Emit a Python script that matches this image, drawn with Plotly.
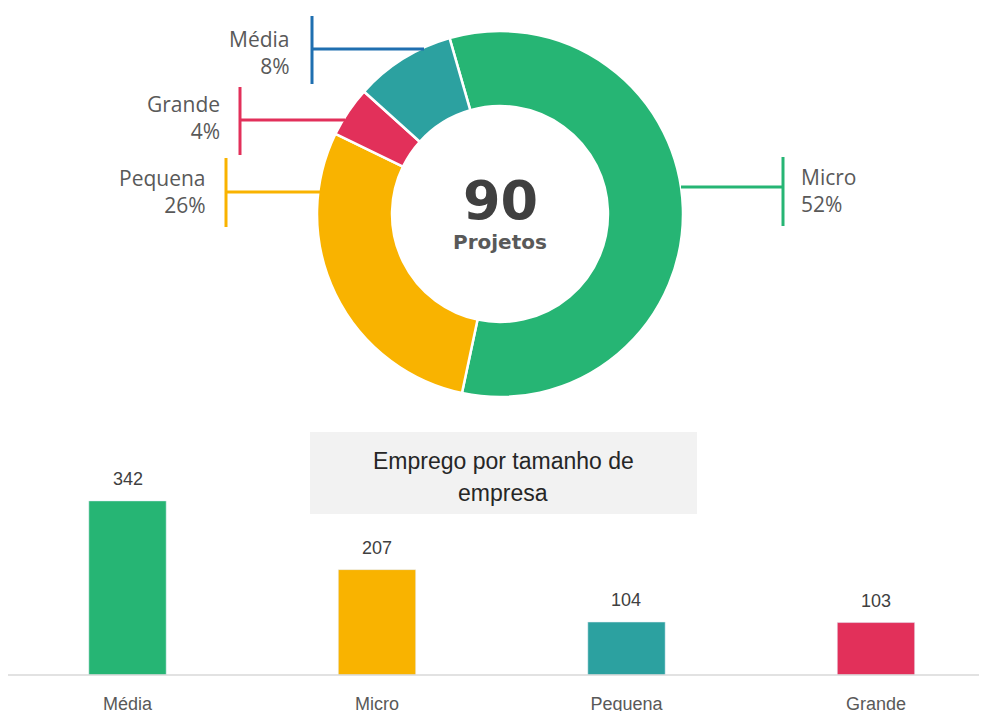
import plotly.graph_objects as go

# page has an 8px body margin, so the figure is drawn 8px in and sized to fit the window
OFF = 8
W, H = 987 - OFF, 711 - OFF

# donut data (projects by company size)
pie_labels = ['Micro', 'Pequena', 'Grande', 'Média']
pie_values = [52, 26, 4, 8]
pie_colors = ['#26B574', '#F9B300', '#E2305A', '#2CA1A0']
line_colors = ['#26B574', '#F9B300', '#E2305A', '#1F6FB0']
total_projects = 90

# bar data (employment by company size)
bar_labels = ['Média', 'Micro', 'Pequena', 'Grande']
bar_values = [342, 207, 104, 103]
bar_colors = ['#26B574', '#F9B300', '#2CA1A0', '#E2305A']


def px(x):
    return (x - OFF) / W


def py(y):
    return 1 - (y - OFF) / H


fig = go.Figure()

# donut
cx, cy, r = 500, 214, 183
fig.add_trace(go.Pie(
    labels=pie_labels, values=pie_values,
    hole=0.59, sort=False, direction='clockwise', rotation=-16,
    marker=dict(colors=pie_colors, line=dict(color='white', width=2.5)),
    textinfo='none', showlegend=False,
    domain=dict(x=[px(cx - r), px(cx + r)], y=[py(cy + r), py(cy - r)]),
))

# bars
fig.add_trace(go.Bar(
    x=bar_labels, y=bar_values, marker_color=bar_colors,
    width=0.31, showlegend=False,
))

# bar value labels
for lab, v in zip(bar_labels, bar_values):
    fig.add_annotation(x=lab, y=v, xref='x', yref='y', text=str(v),
                       showarrow=False, yshift=22, xanchor='center', yanchor='middle',
                       font=dict(family='Liberation Sans', size=18, color='#404040'))

# leader lines for donut labels: (vertical x, y0, y1, horizontal y, x_end)
leaders = {
    'Média': (312, 16, 84, 49, 424),
    'Grande': (240, 87, 155, 120, 345),
    'Pequena': (226, 158, 227, 192, 320),
    'Micro': (783, 157, 226, 187, 681),
}
# label text anchor: (x, y_centre, anchor)
label_pos = {
    'Média': (292, 52, 'right'),
    'Grande': (222, 117, 'right'),
    'Pequena': (208, 192, 'right'),
    'Micro': (799, 190, 'left'),
}

shapes = []
annots_font = dict(family='Open Sans', size=21, color='#595959')
for lab, v, col in zip(pie_labels, pie_values, line_colors):
    vx, y0, y1, hy, xe = leaders[lab]
    shapes.append(dict(type='line', xref='paper', yref='paper',
                       x0=px(vx), x1=px(vx), y0=py(y0), y1=py(y1),
                       line=dict(color=col, width=3)))
    shapes.append(dict(type='line', xref='paper', yref='paper',
                       x0=px(vx), x1=px(xe), y0=py(hy), y1=py(hy),
                       line=dict(color=col, width=3)))
    tx, yc, anc = label_pos[lab]
    fig.add_annotation(x=px(tx), y=py(yc), xref='paper', yref='paper',
                       text=f'{lab}<br>{v}%', align=anc,
                       showarrow=False, xanchor=anc, yanchor='middle', font=annots_font)

# centre text
fig.add_annotation(x=px(cx), y=py(200), xref='paper', yref='paper', text=f'<b>{total_projects}</b>',
                   showarrow=False, xanchor='center', yanchor='middle',
                   font=dict(family='DejaVu Sans', size=54, color='#404040'))
fig.add_annotation(x=px(cx), y=py(242), xref='paper', yref='paper', text='<b>Projetos</b>',
                   showarrow=False, xanchor='center', yanchor='middle',
                   font=dict(family='DejaVu Sans', size=20, color='#595959'))

# bar chart title box
shapes.append(dict(type='rect', xref='paper', yref='paper', layer='below',
                   x0=px(310), x1=px(697), y0=py(514), y1=py(432),
                   fillcolor='#F2F2F2', line=dict(width=0)))
title_font = dict(family='Liberation Sans', size=23, color='#262626')
fig.add_annotation(x=px(503), y=py(461), xref='paper', yref='paper', text='Emprego por tamanho de',
                   showarrow=False, xanchor='center', yanchor='middle', font=title_font)
fig.add_annotation(x=px(503), y=py(493), xref='paper', yref='paper', text='empresa',
                   showarrow=False, xanchor='center', yanchor='middle', font=title_font)

# baseline
shapes.append(dict(type='line', xref='paper', yref='paper',
                   x0=px(5), x1=1, y0=py(675), y1=py(675),
                   line=dict(color='#D9D9D9', width=1.5)))

fig.update_layout(
    width=W, height=H,
    margin=dict(l=0, r=0, t=0, b=0),
    paper_bgcolor='white', plot_bgcolor='white',
    shapes=shapes,
    xaxis=dict(domain=[0, 1], range=[-0.479, 3.445], showgrid=False, zeroline=False,
               showline=False, ticks='', ticklabelstandoff=16, automargin=False,
               tickfont=dict(family='Liberation Sans', size=18, color='#595959')),
    yaxis=dict(domain=[py(675), py(675 - 400 * 0.509)], range=[0, 400], visible=False),
)

fig.write_html("out.html")
